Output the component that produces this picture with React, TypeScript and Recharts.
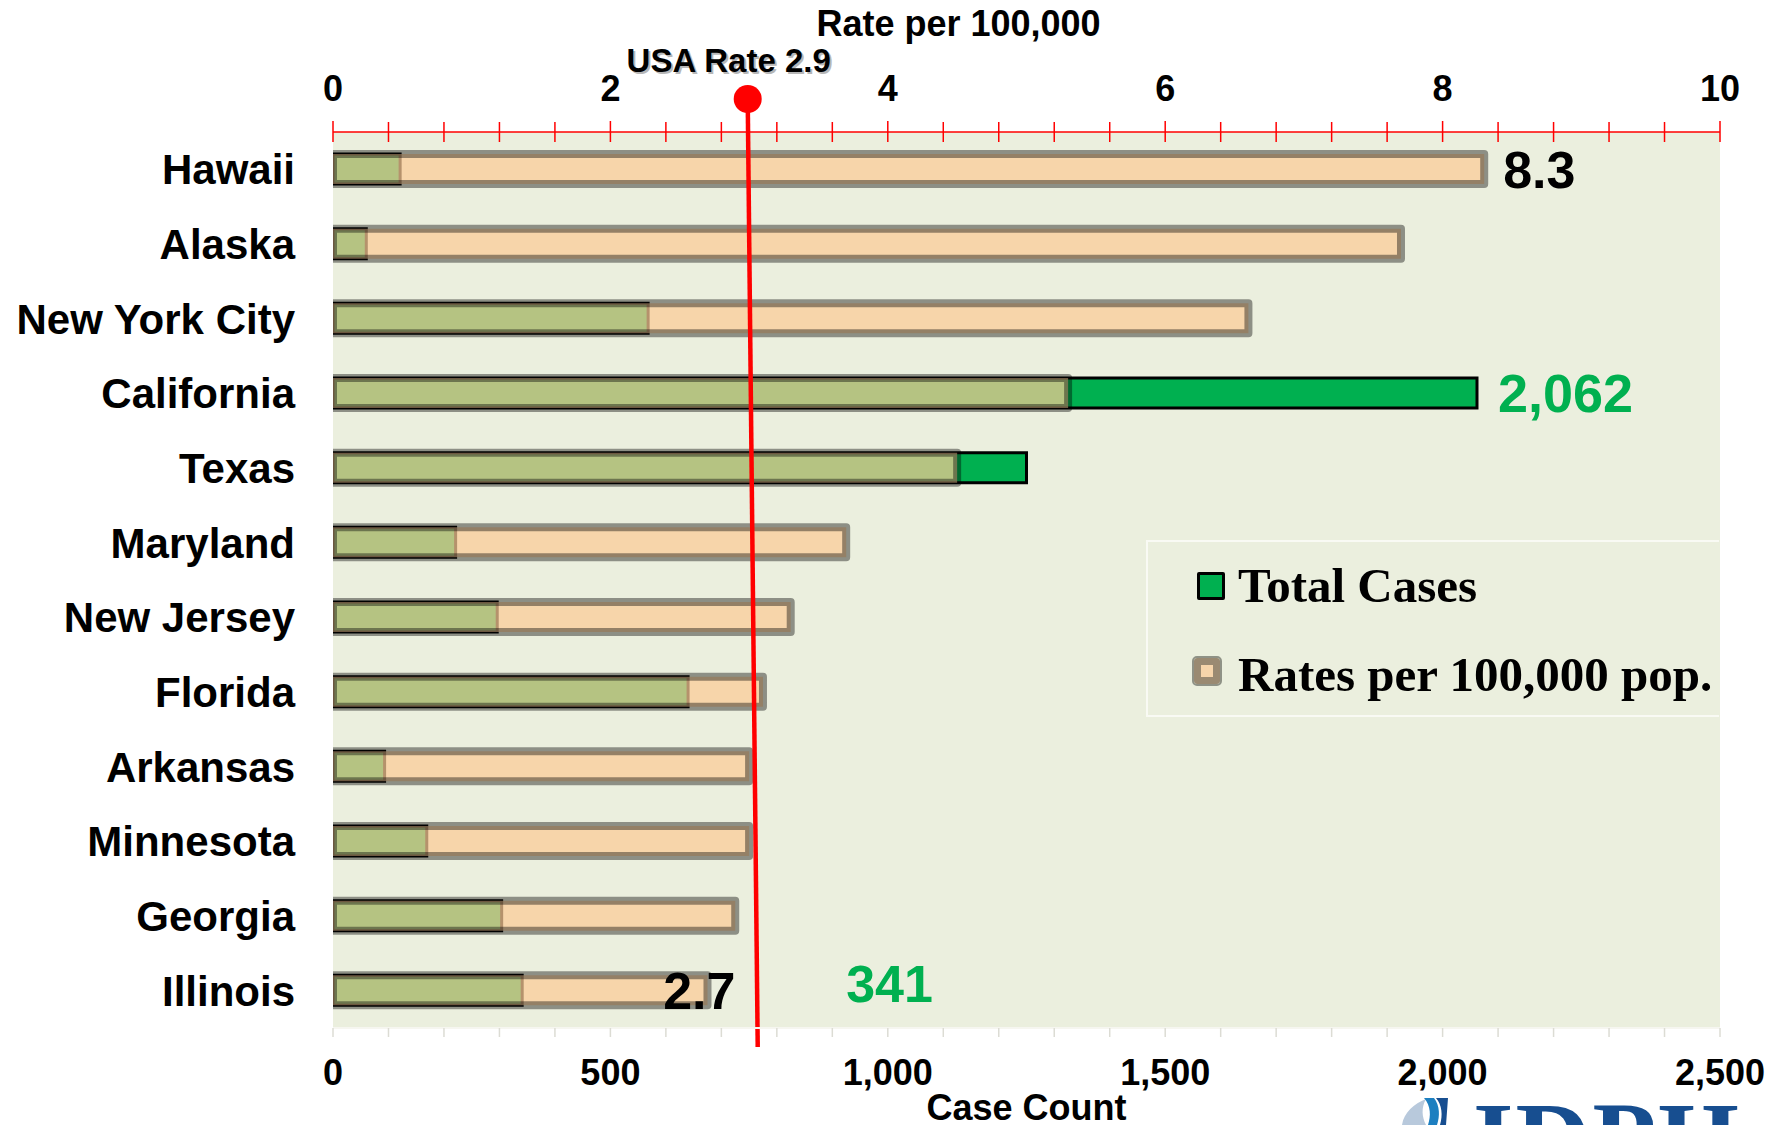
import React from 'react';
import { ComposedChart, Bar, XAxis, YAxis, CartesianGrid, ReferenceLine, LabelList, Legend } from 'recharts';

// ---- data ----
const states = ['Hawaii', 'Alaska', 'New York City', 'California', 'Texas', 'Maryland', 'New Jersey', 'Florida', 'Arkansas', 'Minnesota', 'Georgia', 'Illinois'];
const totalCases = [121, 60, 568, 2062, 1250, 221, 296, 640, 93, 169, 304, 341];
const ratesPer100k = [8.3, 7.7, 6.6, 5.3, 4.5, 3.7, 3.3, 3.1, 3.0, 3.0, 2.9, 2.7];

const rateTicks = [0, 0.4, 0.8, 1.2, 1.6, 2, 2.4, 2.8, 3.2, 3.6, 4, 4.4, 4.8, 5.2, 5.6, 6, 6.4, 6.8, 7.2, 7.6, 8, 8.4, 8.8, 9.2, 9.6, 10];
const rateTickLabels = [0, 2, 4, 6, 8, 10];
const caseTicks = [0, 100, 200, 300, 400, 500, 600, 700, 800, 900, 1000, 1100, 1200, 1300, 1400, 1500, 1600, 1700, 1800, 1900, 2000, 2100, 2200, 2300, 2400, 2500];
const caseTickLabels = [0, 500, 1000, 1500, 2000, 2500];

const usaRateText = 'USA Rate 2.9';
const usaRateMarker = 2.99;

const rateLabelStates = ['Hawaii', 'Illinois'];
const caseLabelStates = ['California', 'Illinois'];

const seriesNames = { cases: 'Total Cases', rate: 'Rates per 100,000 pop.' };
const legendOrder = ['cases', 'rate'];

const data = states.map((s, i) => ({ state: s, cases: totalCases[i], rate: ratesPer100k[i] }));

// ---- styles ----
const SANS = "'Liberation Sans', Arial, sans-serif";
const SERIF = "'Liberation Serif', 'Times New Roman', serif";
const GREEN = '#00b050';
const PEACH = '#fbca96';
const BG = '#ebefde';

const fmt = (n: number) => n.toLocaleString('en-US');

const RateTick = (props: any) => {
  const { x, y, payload } = props;
  const v = payload.value;
  const major = rateTickLabels.includes(v);
  return (
    <g>
      <line x1={x} x2={x} y1={y - (major ? 11 : 10)} y2={y + 10} stroke="#ff0000" strokeWidth={1.5} />
      {major && (
        <text x={x} y={y - 31} textAnchor="middle" fontFamily={SANS} fontWeight="bold" fontSize={36} fill="#000">
          {v}
        </text>
      )}
    </g>
  );
};

const CaseTick = (props: any) => {
  const { x, y, payload } = props;
  const v = payload.value;
  const major = caseTickLabels.includes(v);
  return (
    <g>
      <line x1={x} x2={x} y1={y} y2={y + 9} stroke="#dcdcd4" strokeWidth={1.5} />
      {major && (
        <text x={x} y={y + 57} textAnchor="middle" fontFamily={SANS} fontWeight="bold" fontSize={36} fill="#000">
          {fmt(v)}
        </text>
      )}
    </g>
  );
};

const StateTick = (props: any) => {
  const { x, y, payload } = props;
  return (
    <text x={x} y={y} dy={15} textAnchor="end" fontFamily={SANS} fontWeight="bold" fontSize={42} fill="#000">
      {payload.value}
    </text>
  );
};

const UsaRateMarker = (props: any) => {
  const { x1, y1, x2, y2 } = props;
  const top = Math.min(y1, y2);
  const bottom = Math.max(y1, y2);
  const yDot = top - 33;
  return (
    <g>
      <line x1={x1} y1={yDot} x2={x2 + 10} y2={bottom + 19} stroke="#ff0000" strokeWidth={4.5} />
      <circle cx={x1} cy={yDot} r={14} fill="#ff0000" />
      <text x={x1 - 17} y={74} textAnchor="middle" fontFamily={SANS} fontWeight="bold" fontSize={33} fill="#9a9a9a" opacity={0.7}>
        {usaRateText}
      </text>
      <text x={x1 - 19} y={72} textAnchor="middle" fontFamily={SANS} fontWeight="bold" fontSize={33} fill="#000">
        {usaRateText}
      </text>
    </g>
  );
};

const RateLabel = (props: any) => {
  const { x, y, width, height, index } = props;
  const st = states[index];
  if (!rateLabelStates.includes(st)) return null;
  const end = x + width;
  const cy = y + height / 2;
  const last = index === states.length - 1;
  return (
    <text
      x={last ? end + 28 : end + 19}
      y={cy + 19}
      textAnchor={last ? 'end' : 'start'}
      fontFamily={SANS}
      fontWeight="bold"
      fontSize={52}
      fill="#000"
    >
      {ratesPer100k[index].toFixed(1)}
    </text>
  );
};

const CaseLabel = (props: any) => {
  const { x, y, width, height, index } = props;
  const st = states[index];
  if (!caseLabelStates.includes(st)) return null;
  const end = x + width;
  const cy = y + height / 2;
  const last = index === states.length - 1;
  return (
    <text
      x={last ? end + 324 : end + 21}
      y={last ? cy + 12 : cy + 19}
      textAnchor="start"
      fontFamily={SANS}
      fontWeight="bold"
      fontSize={last ? 52 : 54}
      fill={GREEN}
    >
      {fmt(totalCases[index])}
    </text>
  );
};

const LegendContent = (props: any) => {
  const payload = [...(props.payload || [])].sort(
    (a: any, b: any) => legendOrder.indexOf(a.dataKey) - legendOrder.indexOf(b.dataKey)
  );
  return (
    <div
      style={{
        position: 'relative',
        width: 573,
        height: 177,
        boxSizing: 'border-box',
        border: '2px solid #f9faf4',
        borderRight: 'none',
        background: BG,
      }}
    >
      {payload.map((p: any, i: number) => {
        const isCases = p.dataKey === 'cases';
        const cy = i === 0 ? 44 : 133;
        return (
          <div key={i}>
            <div
              style={{
                position: 'absolute',
                left: isCases ? 49 : 46,
                top: cy - (isCases ? 14 : 17),
                width: isCases ? 28 : 26,
                height: isCases ? 28 : 26,
                boxSizing: 'border-box',
                background: isCases ? GREEN : '#f6d5ab',
                border: isCases ? '3px solid #000' : '7px solid #9a8a72',
                outline: isCases ? 'none' : '2px solid #8f9286',
                borderRadius: isCases ? 2 : 3,
              }}
            />
            <div
              style={{
                position: 'absolute',
                left: 90,
                top: cy - 32,
                height: 64,
                lineHeight: '64px',
                fontFamily: SERIF,
                fontWeight: 'bold',
                fontSize: 49,
                color: '#000',
                whiteSpace: 'nowrap',
              }}
            >
              {p.value}
            </div>
          </div>
        );
      })}
    </div>
  );
};

export default function App() {
  return (
    <div style={{ position: 'absolute', left: 0, top: 0, width: 1789, height: 1125, overflow: 'hidden', background: '#fff' }}>
      <ComposedChart
        width={1789}
        height={1125}
        data={data}
        layout="vertical"
        margin={{ top: 0, right: 69, bottom: 0, left: 0 }}
        barGap={-30}
        barCategoryGap={0}
      >
        <CartesianGrid fill={BG} stroke="none" horizontal={false} vertical={false} xAxisId="rate" />
        <XAxis
          xAxisId="rate"
          type="number"
          orientation="top"
          domain={[0, 10]}
          ticks={rateTicks}
          interval={0}
          height={132}
          tickSize={0}
          tickMargin={0}
          tickLine={false}
          axisLine={{ stroke: '#ff0000', strokeWidth: 1.5 }}
          tick={<RateTick />}
          allowDataOverflow
          label={(p: any) => {
            const vb = p.viewBox || { x: 333, y: 0, width: 1387 };
            return (
              <text x={vb.x + vb.width / 2 - 68} y={36} textAnchor="middle" fontFamily={SANS} fontWeight="bold" fontSize={36} fill="#000">
                Rate per 100,000
              </text>
            );
          }}
        />
        <XAxis
          xAxisId="cases"
          type="number"
          orientation="bottom"
          domain={[0, 2500]}
          ticks={caseTicks}
          interval={0}
          height={97}
          tickSize={0}
          tickMargin={0}
          tickLine={false}
          axisLine={{ stroke: '#f6f6f0', strokeWidth: 2 }}
          tick={<CaseTick />}
          allowDataOverflow
          label={(p: any) => {
            const vb = p.viewBox || { x: 333, y: 1028, width: 1387 };
            return (
              <text x={vb.x + vb.width / 2} y={1120} textAnchor="middle" fontFamily={SANS} fontWeight="bold" fontSize={36} fill="#000">
                Case Count
              </text>
            );
          }}
        />
        <YAxis
          type="category"
          dataKey="state"
          width={333}
          tickSize={0}
          tickMargin={38}
          tickLine={false}
          axisLine={false}
          interval={0}
          tick={<StateTick />}
        />
        <Bar
          dataKey="cases"
          name={seriesNames.cases}
          xAxisId="cases"
          barSize={30}
          fill={GREEN}
          stroke="#000"
          strokeWidth={3}
          isAnimationActive={false}
        >
          <LabelList dataKey="cases" content={<CaseLabel />} />
        </Bar>
        <Bar
          dataKey="rate"
          name={seriesNames.rate}
          xAxisId="rate"
          barSize={30}
          fill={PEACH}
          fillOpacity={0.72}
          stroke="#000"
          strokeOpacity={0.4}
          strokeWidth={8}
          strokeLinejoin="round"
          isAnimationActive={false}
        >
          <LabelList dataKey="rate" content={<RateLabel />} />
        </Bar>
        <ReferenceLine xAxisId="rate" x={usaRateMarker} shape={<UsaRateMarker />} ifOverflow="visible" />
        <Legend
          layout="vertical"
          align="center"
          verticalAlign="middle"
          content={<LegendContent />}
          wrapperStyle={{ left: 1146, top: 540, width: 573, height: 177 }}
        />
      </ComposedChart>
      <svg width={1789} height={1125} style={{ position: 'absolute', left: 0, top: 0, pointerEvents: 'none' }}>
        <path d="M1402,1125 C1404,1112 1414,1104 1426,1099 C1421,1108 1422,1117 1426,1125 Z" fill="#b8c9dc" />
        <path d="M1424,1098 L1434,1098 C1440,1106 1440,1116 1437,1125 L1428,1125 C1431,1116 1431,1106 1424,1098 Z" fill="#1d7fc0" />
        <path d="M1436,1098 L1448,1098 L1446,1125 L1440,1125 C1443,1115 1442,1105 1436,1098 Z" fill="#174e90" />
        <text x={1473} y={1174} fontFamily={SERIF} fontWeight="bold" fontSize={104} fill="#174e90" letterSpacing={2}>
          IDPH
        </text>
      </svg>
    </div>
  );
}
